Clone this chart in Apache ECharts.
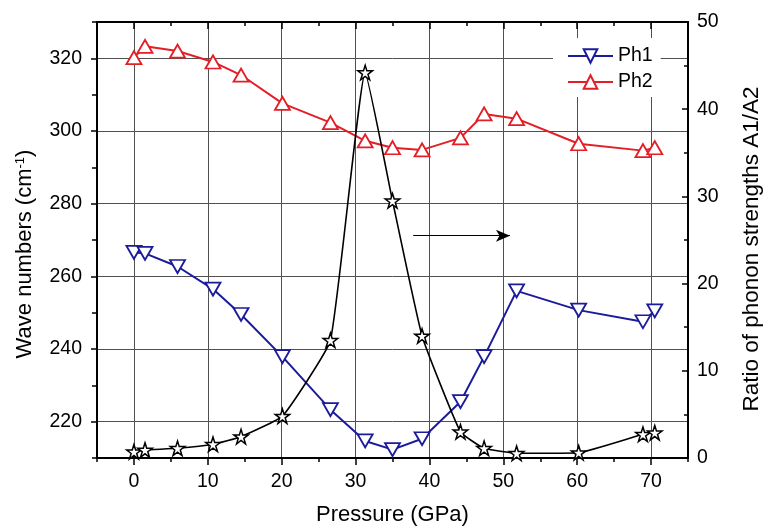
<!DOCTYPE html>
<html>
<head>
<meta charset="utf-8">
<script src="https://cdn.jsdelivr.net/npm/echarts@6/dist/echarts.min.js"></script>
<style>
  html, body { margin: 0; padding: 0; background: #fff; }
  #chart { width: 763px; height: 529px; }
</style>
</head>
<body>
<div id="chart"></div>
<script>
// Pressure points (GPa) shared by all three series
const pressure = [0, 1.5, 5.9, 10.7, 14.5, 20.1, 26.6, 31.3, 35.0, 39.0, 44.2, 47.4, 51.8, 60.2, 68.9, 70.5];
// Wave numbers (cm-1)
const ph1 = [266.6, 266.3, 262.7, 256.5, 249.5, 237.9, 223.3, 214.7, 212.3, 215.3, 225.5, 237.9, 256.0, 250.7, 247.5, 250.5];
const ph2 = [320.2, 323.3, 322.0, 319.0, 315.4, 307.6, 302.3, 297.3, 295.4, 294.8, 298.1, 304.7, 303.4, 296.5, 294.6, 295.4];
// Ratio of phonon strengths A1/A2 (right axis)
const ratio = [0.72, 0.92, 1.11, 1.57, 2.45, 4.8, 13.5, 44.2, 29.5, 14.0, 3.0, 1.11, 0.54, 0.61, 2.72, 2.9];

// Tick positions
const xMajorTicks = [0, 10, 20, 30, 40, 50, 60, 70];
const xMinorTicks = [-5, 5, 15, 25, 35, 45, 55, 65, 75];
const leftMajorTicks = [220, 240, 260, 280, 300, 320];
const leftMinorTicks = [210, 230, 250, 270, 290, 310, 330];
const rightMajorTicks = [0, 10, 20, 30, 40, 50];
const rightMinorTicks = [5, 15, 25, 35, 45];

// Arrow pointing the star curve to the right-hand axis
const arrowStart = [37.8, 25.5];
const arrowEnd = [50.9, 25.5];

const FONT = 'Liberation Sans, Arial, sans-serif';
const RED = '#e41e26';
const BLUE = '#1b1b9b';
const GRID = '#505050';
const STAR = 'path://M50,0 L61.2,34.5 L97.6,34.5 L68.2,55.9 L79.4,90.5 L50,69.1 L20.6,90.5 L31.8,55.9 L2.4,34.5 L38.8,34.5 Z';

const frameLine = { show: true, onZero: false, lineStyle: { color: '#000', width: 2 } };
const tickStyle = { color: '#000', width: 1.5 };
const labelStyle = { fontSize: 19.5, color: '#000', fontFamily: FONT };

function tickAxis(base, ticks, len, inside) {
  return Object.assign({
    type: 'value',
    axisLine: { show: false, onZero: false },
    axisTick: { show: true, inside: inside, length: len, customValues: ticks, lineStyle: tickStyle },
    axisLabel: { show: false },
    splitLine: { show: false }
  }, base);
}

const xRange = { min: -5, max: 75, splitNumber: 8 };
const leftRange = { min: 210, max: 330, splitNumber: 6 };
const rightRange = { min: 0, max: 50, splitNumber: 5 };

const option = {
  animation: false,
  backgroundColor: '#fff',
  grid: { left: 97, right: 75, top: 22, bottom: 71, outerBoundsMode: 'none' },
  legend: {
    data: ['Ph1', 'Ph2'],
    orient: 'vertical',
    left: 553,
    top: 38,
    padding: [8, 8, 5, 14],
    itemWidth: 45,
    itemHeight: 17,
    itemGap: 6,
    backgroundColor: '#fff',
    textStyle: { fontSize: 19.5, color: '#000', fontFamily: FONT }
  },
  xAxis: [
    Object.assign({
      type: 'value', position: 'bottom',
      axisLine: frameLine,
      axisTick: { show: true, inside: false, length: 7, customValues: xMajorTicks, lineStyle: tickStyle },
      axisLabel: Object.assign({ customValues: xMajorTicks, margin: 14 }, labelStyle),
      splitLine: { show: true, lineStyle: { color: GRID, width: 1 } },
      name: 'Pressure (GPa)', nameLocation: 'middle', nameGap: 46,
      nameTextStyle: { fontSize: 22, color: '#000', fontFamily: FONT }
    }, xRange),
    tickAxis(Object.assign({ position: 'bottom' }, xRange), xMinorTicks, 4, false),
    tickAxis(Object.assign({ position: 'top', axisLine: frameLine }, xRange), xMajorTicks, 7, true),
    tickAxis(Object.assign({ position: 'top' }, xRange), xMinorTicks, 4, true)
  ],
  yAxis: [
    Object.assign({
      type: 'value', position: 'left',
      axisLine: frameLine,
      axisTick: { show: true, inside: false, length: 6, customValues: leftMajorTicks, lineStyle: tickStyle },
      axisLabel: Object.assign({ customValues: leftMajorTicks, margin: 15 }, labelStyle),
      splitLine: { show: true, lineStyle: { color: GRID, width: 1 } },
      name: 'Wave numbers (cm{sup|-1})', nameLocation: 'middle', nameGap: 61,
      nameTextStyle: {
        fontSize: 22, color: '#000', fontFamily: FONT, padding: [0, 28, 0, 0],
        rich: { sup: { fontSize: 13, color: '#000', fontFamily: FONT, verticalAlign: 'top' } }
      }
    }, leftRange),
    tickAxis(Object.assign({ position: 'left' }, leftRange), leftMinorTicks, 5, false),
    Object.assign({
      type: 'value', position: 'right',
      axisLine: frameLine,
      axisTick: { show: true, inside: true, length: 6, customValues: rightMajorTicks, lineStyle: tickStyle },
      axisLabel: Object.assign({ customValues: rightMajorTicks, margin: 9 }, labelStyle),
      splitLine: { show: false },
      name: 'Ratio of phonon strengths A1/A2', nameLocation: 'middle', nameGap: 52,
      nameTextStyle: { fontSize: 22.5, color: '#000', fontFamily: FONT, padding: [0, 18, 0, 0] }
    }, rightRange),
    tickAxis(Object.assign({ position: 'right' }, rightRange), rightMinorTicks, 4, true)
  ],
  series: [
    {
      name: 'Ph1', type: 'line', xAxisIndex: 0, yAxisIndex: 0,
      data: pressure.map((p, i) => [p, ph1[i]]),
      symbol: 'triangle', symbolRotate: 180, symbolSize: [15, 13],
      lineStyle: { color: BLUE, width: 2 },
      itemStyle: { color: '#fff', borderColor: BLUE, borderWidth: 1.8 },
      z: 3
    },
    {
      name: 'Ph2', type: 'line', xAxisIndex: 0, yAxisIndex: 0,
      data: pressure.map((p, i) => [p, ph2[i]]),
      symbol: 'triangle', symbolSize: [15, 13],
      lineStyle: { color: RED, width: 2 },
      itemStyle: { color: '#fff', borderColor: RED, borderWidth: 1.8 },
      z: 3
    },
    {
      name: 'A1/A2', type: 'line', xAxisIndex: 0, yAxisIndex: 2,
      data: pressure.map((p, i) => [p, ratio[i]]),
      smooth: 0.12,
      symbol: STAR, symbolSize: 14.5,
      lineStyle: { color: '#000', width: 1.6 },
      itemStyle: { color: '#fff', borderColor: '#000', borderWidth: 1.5 },
      z: 4,
      markLine: {
        silent: true,
        symbol: ['none', 'arrow'],
        symbolSize: [9, 14],
        lineStyle: { color: '#000', width: 1, type: 'solid' },
        label: { show: false },
        data: [[{ coord: arrowStart }, { coord: arrowEnd }]]
      }
    }
  ]
};

const chart = echarts.init(document.getElementById('chart'), null, { renderer: 'canvas' });
chart.setOption(option);
</script>
</body>
</html>
